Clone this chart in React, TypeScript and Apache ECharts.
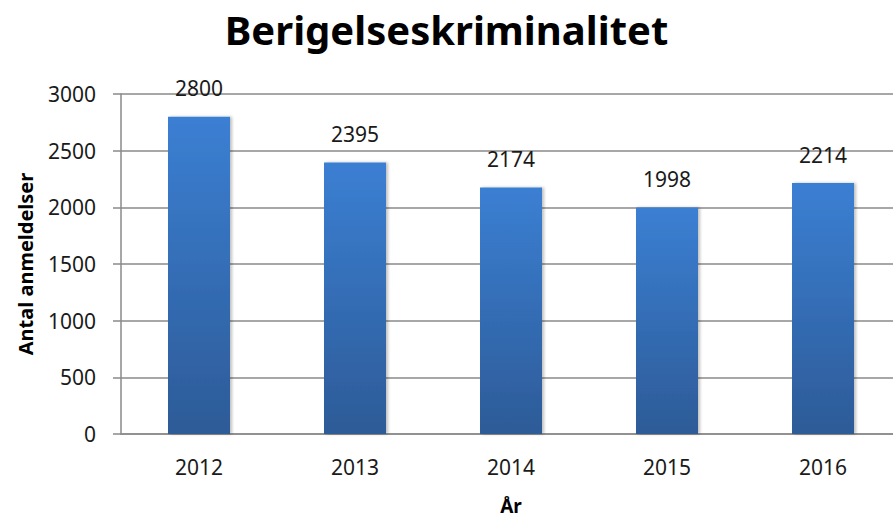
import React, { useEffect, useRef } from "react";
import * as echarts from "echarts";

const categories = ["2012", "2013", "2014", "2015", "2016"];
const values = [2800, 2395, 2174, 1998, 2214];
const titleText = "Berigelseskriminalitet";
const yName = "Antal anmeldelser";
const xName = "År";

export default function App() {
  const ref = useRef<HTMLDivElement>(null);
  useEffect(() => {
    if (!ref.current) return;
    const chart = echarts.init(ref.current, null, { renderer: "svg" });
    const font = "'Noto Sans', sans-serif";
    chart.setOption({
      animation: false,
      backgroundColor: "#ffffff",
      title: {
        text: titleText,
        left: "center",
        top: 4,
        textStyle: { fontFamily: font, fontSize: 40, fontWeight: "bold", color: "#000" },
      },
      grid: {
        left: 121,
        top: 94,
        width: 780,
        height: 340,
        containLabel: false,
        outerBoundsMode: "none",
      },
      xAxis: {
        type: "category",
        data: categories,
        name: xName,
        nameLocation: "middle",
        nameGap: 62,
        nameTextStyle: { fontFamily: font, fontSize: 19, lineHeight: 20, fontWeight: "bold", color: "#000" },
        axisLine: { show: true, lineStyle: { color: "#8a8a8a", width: 1.5 } },
        axisTick: { show: false },
        axisLabel: { fontFamily: font, fontSize: 21, color: "#1a1a1a", margin: 22 },
      },
      yAxis: {
        type: "value",
        min: 0,
        max: 3000,
        interval: 500,
        name: yName,
        nameLocation: "middle",
        nameRotate: 90,
        nameGap: 86,
        nameTextStyle: { fontFamily: font, fontSize: 20, fontWeight: "bold", color: "#000" },
        axisLine: { show: true, lineStyle: { color: "#8a8a8a", width: 1.5 } },
        axisTick: { show: true, inside: false, length: 8, lineStyle: { color: "#8a8a8a", width: 1.5 } },
        axisLabel: {
          fontFamily: font,
          fontSize: 21,
          color: "#1a1a1a",
          margin: 25,
          formatter: (v: number) => String(v),
        },
        splitLine: { show: true, lineStyle: { color: "#8a8a8a", width: 1.5 } },
      },
      series: [
        {
          type: "bar",
          data: values,
          barWidth: 62,
          itemStyle: {
            color: new echarts.graphic.LinearGradient(0, 0, 0, 1, [
              { offset: 0, color: "#3b7fd3" },
              { offset: 1, color: "#2d5b97" },
            ]),
            shadowColor: "rgba(0,0,0,0.25)",
            shadowBlur: 3,
            shadowOffsetX: 2,
          },
          label: {
            show: true,
            position: "top",
            distance: 18,
            fontFamily: font,
            fontSize: 21,
            color: "#1a1a1a",
          },
        },
      ],
    });
    return () => chart.dispose();
  }, []);
  return (
    <div
      ref={ref}
      style={{ position: "fixed", left: 0, top: 0, width: 893, height: 518 }}
    />
  );
}
